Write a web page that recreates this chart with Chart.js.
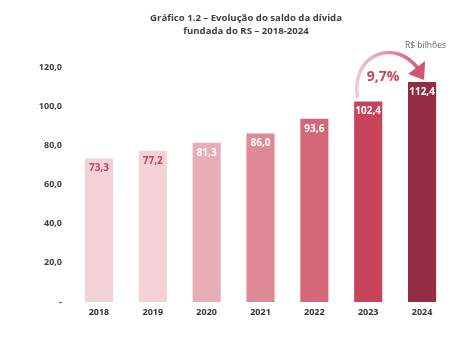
<!DOCTYPE html>
<html>
<head>
<meta charset="utf-8">
<script src="https://cdn.jsdelivr.net/npm/chart.js@4"></script>
<style>
  html, body { margin: 0; padding: 0; background: #fff; }
  #wrap { width: 464px; height: 338px; }
</style>
</head>
<body>
<div id="wrap"><canvas id="chart" width="464" height="338"></canvas></div>
<script>
const years = ["2018", "2019", "2020", "2021", "2022", "2023", "2024"];
const debt = [73.3, 77.2, 81.3, 86.0, 93.6, 102.4, 112.4];
const barColors = ["#f2d2d7", "#f2d2d7", "#e8adb6", "#de8995", "#d46877", "#c9445a", "#952c43"];
const labelColors = ["#c9445a", "#c9445a", "#fff", "#fff", "#fff", "#fff", "#fff"];
const growthLabel = "9,7%";
const titleLines = ["Gráfico 1.2 – Evolução do saldo da dívida", "fundada do RS – 2018-2024"];
const unitLabel = "R$ bilhões";

const fmt = v => v.toFixed(1).replace(".", ",");
const FONT = "'Open Sans', sans-serif";

// labels, title, arrow
const decor = {
  id: "decor",
  afterDatasetsDraw(chart) {
    const ctx = chart.ctx;
    const bars = chart.getDatasetMeta(0).data;
    ctx.save();
    ctx.textAlign = "center";
    ctx.textBaseline = "middle";
    ctx.font = "bold 10px " + FONT;
    bars.forEach((b, i) => {
      ctx.fillStyle = labelColors[i];
      ctx.fillText(fmt(debt[i]), b.x, b.y + 10);
    });

    // title
    ctx.fillStyle = "#404040";
    ctx.font = "bold 9.6px " + FONT;
    ctx.fillText(titleLines[0], 246, 18);
    ctx.fillText(titleLines[1], 246, 31);

    // unit
    ctx.fillStyle = "#666";
    ctx.font = "8.5px " + FONT;
    ctx.textAlign = "right";
    ctx.fillText(unitLabel, 446, 46);

    // growth arrow between last two bars
    const a = bars[5], c = bars[6];
    const sx = a.x - 11, sy = a.y - 5;
    const ex = c.x + 1, ey = c.y - 3;
    const grad = ctx.createLinearGradient(sx, 0, ex, 0);
    grad.addColorStop(0, "#f2c8cf");
    grad.addColorStop(1, "#d2566b");
    ctx.strokeStyle = grad;
    ctx.lineWidth = 3.5;
    ctx.lineCap = "round";
    ctx.beginPath();
    ctx.moveTo(sx, sy);
    ctx.bezierCurveTo(sx - 6, sy - 42, ex - 28, sy - 60, ex - 4, ey - 9);
    ctx.stroke();
    ctx.fillStyle = "#d2566b";
    ctx.beginPath();
    ctx.moveTo(ex + 1, ey + 1);
    ctx.lineTo(ex - 15, ey - 5);
    ctx.lineTo(ex + 2, ey - 18);
    ctx.closePath();
    ctx.fill();

    ctx.textAlign = "center";
    ctx.fillStyle = "#c9445a";
    ctx.font = "bold 14px " + FONT;
    ctx.fillText(growthLabel, (a.x + c.x) / 2 - 12, c.y - 5);
    ctx.restore();
  }
};

new Chart(document.getElementById("chart"), {
  type: "bar",
  data: {
    labels: years,
    datasets: [{
      data: debt,
      backgroundColor: barColors,
      categoryPercentage: 0.6,
      barPercentage: 0.87
    }]
  },
  options: {
    responsive: false,
    animation: false,
    layout: { padding: { top: 67, right: 15, left: 0, bottom: 0 } },
    plugins: { legend: { display: false }, tooltip: { enabled: false } },
    scales: {
      x: {
        grid: { display: false, drawTicks: false },
        border: { display: false },
        ticks: { color: "#333", font: { family: FONT, size: 9, weight: "bold" }, padding: 5 },
        afterFit: s => { s.height = 36; }
      },
      y: {
        min: 0, max: 120,
        grid: { display: false, drawTicks: false },
        border: { display: false },
        ticks: {
          stepSize: 20,
          color: "#404040",
          padding: 10,
          font: { family: FONT, size: 9, weight: "bold" },
          callback: v => v === 0 ? "-" : fmt(v)
        },
        afterFit: s => { s.width = 72; }
      }
    }
  },
  plugins: [decor]
});
</script>
</body>
</html>
